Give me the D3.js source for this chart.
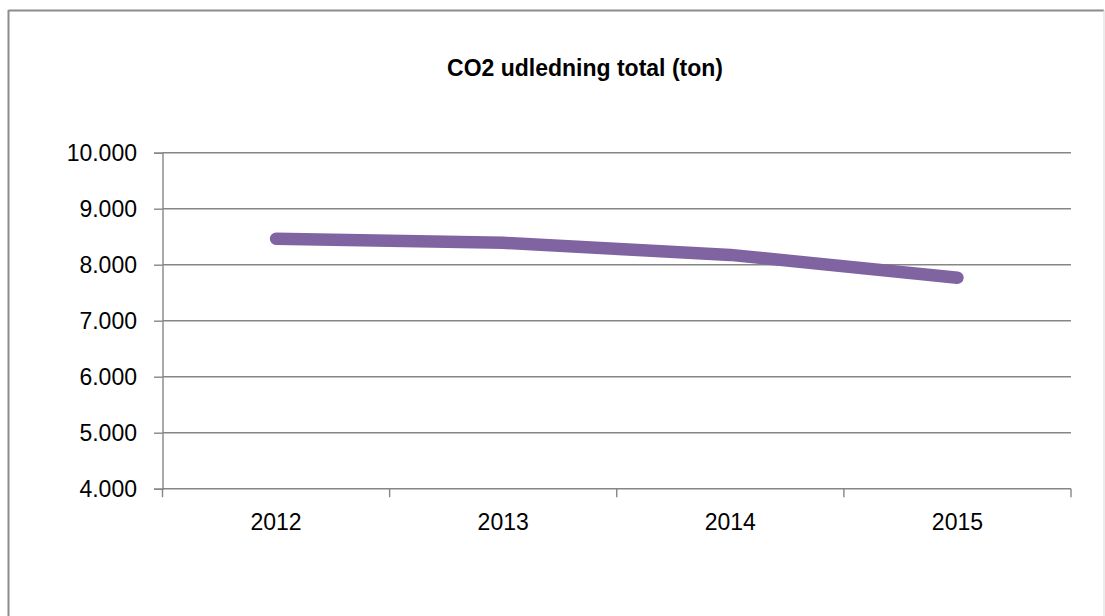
<!DOCTYPE html>
<html>
<head>
<meta charset="utf-8">
<script src="https://cdn.jsdelivr.net/npm/d3@7"></script>
<style>
  html, body { margin: 0; padding: 0; background: #fff; }
  svg { display: block; }
</style>
</head>
<body>
<svg id="chart" width="1105" height="616"></svg>
<script>
const title = "CO2 udledning total (ton)";
const years = ["2012", "2013", "2014", "2015"];
const emissions = [8464, 8390, 8175, 7768];
const yTicks = [4000, 5000, 6000, 7000, 8000, 9000, 10000];

const svg = d3.select("#chart");
const W = 1105, H = 616;
const plotL = 162.5, plotR = 1071, plotT = 152.7, plotB = 488.7;

const locale = d3.formatLocale({ decimal: ",", thousands: ".", grouping: [3], currency: ["", " kr."] });
const fmt = locale.format(",.0f");

// chart frame
svg.append("rect").attr("x", 0).attr("y", 0).attr("width", W).attr("height", H).attr("fill", "#fff");
svg.append("line").attr("x1", 8.5).attr("x2", 1104).attr("y1", 10.5).attr("y2", 10.5)
  .attr("stroke", "#8c8c8c").attr("stroke-width", 2);
svg.append("line").attr("x1", 8.5).attr("x2", 8.5).attr("y1", 10).attr("y2", H)
  .attr("stroke", "#8c8c8c").attr("stroke-width", 2);
svg.append("line").attr("x1", 1104).attr("x2", 1104).attr("y1", 10).attr("y2", H)
  .attr("stroke", "#d9d9d9").attr("stroke-width", 1);

const x = d3.scaleBand().domain(years).range([plotL, plotR]).padding(0);
const y = d3.scaleLinear().domain([4000, 10000]).range([plotB, plotT]);

// gridlines
svg.append("g").selectAll("line").data(yTicks.filter(d => d > 4000)).join("line")
  .attr("x1", plotL).attr("x2", plotR)
  .attr("y1", d => y(d)).attr("y2", d => y(d))
  .attr("stroke", "#868686").attr("stroke-width", 1.4);

// y axis
const yAxis = svg.append("g").attr("transform", `translate(${plotL},0)`)
  .call(d3.axisLeft(y).tickValues(yTicks).tickFormat(fmt).tickSize(8.5).tickPadding(17));
yAxis.select(".domain").attr("stroke", "#868686").attr("stroke-width", 1.4);
yAxis.selectAll(".tick line").attr("stroke", "#868686").attr("stroke-width", 1.4);
yAxis.selectAll(".tick text").attr("font-family", "Liberation Sans, Arial, sans-serif")
  .attr("font-size", 23).attr("fill", "#000").attr("dy", "0.36em");

// x axis
const xAxis = svg.append("g").attr("transform", `translate(0,${plotB})`)
  .call(d3.axisBottom(x).tickSize(0).tickPadding(25));
xAxis.select(".domain").remove();
xAxis.append("line").attr("x1", plotL).attr("x2", plotR).attr("y1", 0).attr("y2", 0)
  .attr("stroke", "#868686").attr("stroke-width", 1.4);
const boundaries = years.map(d => x(d)).concat([x(years[years.length - 1]) + x.bandwidth()]);
xAxis.selectAll(".bt").data(boundaries).join("line").attr("class", "bt")
  .attr("x1", d => d).attr("x2", d => d).attr("y1", 0).attr("y2", 8.5)
  .attr("stroke", "#868686").attr("stroke-width", 1.4);
xAxis.selectAll(".tick text").attr("font-family", "Liberation Sans, Arial, sans-serif")
  .attr("font-size", 23).attr("fill", "#000");

// line
const line = d3.line().x((d, i) => x(years[i]) + x.bandwidth() / 2).y(d => y(d));
svg.append("path").datum(emissions).attr("d", line)
  .attr("fill", "none").attr("stroke", "#8064A2").attr("stroke-width", 12.5)
  .attr("stroke-linecap", "round").attr("stroke-linejoin", "round");

// title
svg.append("text").attr("x", 585).attr("y", 76).attr("text-anchor", "middle")
  .attr("font-family", "Liberation Sans, Arial, sans-serif").attr("font-weight", "bold")
  .attr("font-size", 23).attr("fill", "#000").text(title);
</script>
</body>
</html>
